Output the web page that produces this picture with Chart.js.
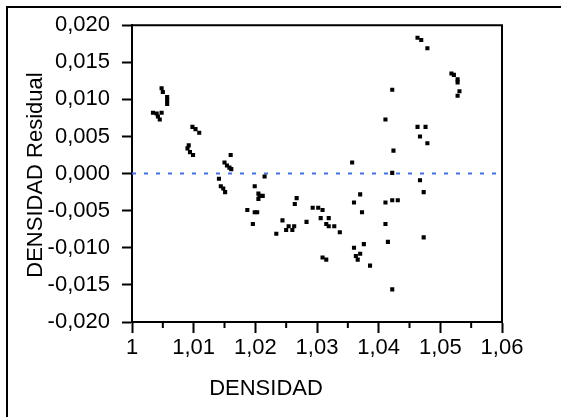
<!DOCTYPE html>
<html>
<head>
<meta charset="utf-8">
<script src="https://cdn.jsdelivr.net/npm/chart.js@4"></script>
<style>
  body { margin: 0; background: #fff; }
  canvas { display: block; }
</style>
</head>
<body>
<canvas id="residChart" width="561" height="417"></canvas>
<script>
// values
const densidad = [
  1.0048, 1.0050, 1.0057, 1.0057, 1.0057, 1.0034, 1.0040, 1.0048, 1.0042, 1.0045,
  1.0098, 1.0103, 1.0109, 1.0092, 1.0090, 1.0094, 1.0099, 1.0160, 1.0150, 1.0154,
  1.0158, 1.0161, 1.0215, 1.0141, 1.0144, 1.0148, 1.0151, 1.0199, 1.0205, 1.0207,
  1.0212, 1.0205, 1.0187, 1.0199, 1.0203, 1.0196, 1.0234, 1.0422, 1.0411, 1.0424,
  1.0357, 1.0422, 1.0267, 1.0264, 1.0370, 1.0360, 1.0373, 1.0411, 1.0422, 1.0431,
  1.0293, 1.0302, 1.0309, 1.0244, 1.0283, 1.0306, 1.0319, 1.0315, 1.0319, 1.0328,
  1.0337, 1.0254, 1.0263, 1.0250, 1.0260, 1.0411, 1.0415, 1.0360, 1.0376, 1.0370,
  1.0363, 1.0366, 1.0386, 1.0309, 1.0315, 1.0422, 1.0463, 1.0469, 1.0479, 1.0518,
  1.0522, 1.0528, 1.0528, 1.0531, 1.0528, 1.0463, 1.0476, 1.0467, 1.0479, 1.0467,
  1.0473, 1.0473
];
const residual = [
  0.0115, 0.0110, 0.0103, 0.0099, 0.0094, 0.0082, 0.0081, 0.0082, 0.0077, 0.0073,
  0.0063, 0.0060, 0.0055, 0.0038, 0.0034, 0.0029, 0.0025, 0.0025, 0.0015, 0.0011,
  0.0008, 0.0006, -0.0004, -0.0007, -0.0017, -0.0020, -0.0025, -0.0017, -0.0027, -0.0030,
  -0.0030, -0.0034, -0.0049, -0.0052, -0.0052, -0.0068, -0.0081, 0.0113, 0.0073, 0.0031,
  0.0015, 0.0001, -0.0033, -0.0041, -0.0028, -0.0039, -0.0052, -0.0039, -0.0036, -0.0036,
  -0.0046, -0.0046, -0.0049, -0.0063, -0.0065, -0.0060, -0.0060, -0.0068, -0.0071, -0.0071,
  -0.0079, -0.0071, -0.0071, -0.0076, -0.0076, -0.0068, -0.0092, -0.0100, -0.0095, -0.0108,
  -0.0111, -0.0116, -0.0124, -0.0113, -0.0116, -0.0156, 0.0183, 0.0180, 0.0169, 0.0135,
  0.0133, 0.0127, 0.0123, 0.0111, 0.0105, 0.0063, 0.0063, 0.0050, 0.0041, -0.0009,
  -0.0025, -0.0086
];

const xTicks = [1, 1.01, 1.02, 1.03, 1.04, 1.05, 1.06];
const xMinorTicks = [1.005, 1.015, 1.025, 1.035, 1.045, 1.055];
const yTicks = [-0.02, -0.015, -0.01, -0.005, 0, 0.005, 0.01, 0.015, 0.02];
const refLine = [0, 0];

const FONT = 'Liberation Sans, Arial, sans-serif';
const comma = v => String(v).replace('.', ',');

const extras = {
  id: 'extras',
  beforeDraw(chart) {
    const c = chart.ctx;
    c.save();
    c.fillStyle = '#fff';
    c.fillRect(0, 0, chart.width, chart.height);
    c.strokeStyle = '#000';
    c.lineWidth = 2;
    c.strokeRect(7, 7, 700, 600);
    c.restore();
  },
  afterDraw(chart) {
    const c = chart.ctx;
    const a = chart.chartArea;
    const xs = chart.scales.x;
    c.save();
    c.strokeStyle = '#000';
    c.lineWidth = 2;
    c.beginPath();
    c.moveTo(a.left, a.top);
    c.lineTo(a.right, a.top);
    c.lineTo(a.right, a.bottom);
    c.stroke();
    // minor ticks
    xMinorTicks.forEach(v => {
      const px = xs.getPixelForValue(v);
      c.beginPath();
      c.moveTo(px, a.bottom);
      c.lineTo(px, a.bottom + 6);
      c.stroke();
    });
    c.fillStyle = '#000';
    c.font = '22px ' + FONT;
    c.textAlign = 'center';
    c.textBaseline = 'middle';
    c.fillText('DENSIDAD', 266, 389);
    c.translate(36, 175);
    c.rotate(-Math.PI / 2);
    c.fillText('DENSIDAD Residual', 0, 0);
    c.restore();
  }
};

new Chart(document.getElementById('residChart'), {
  type: 'scatter',
  data: {
    datasets: [{
      data: densidad.map((d, i) => ({ x: d, y: residual[i] })),
      pointStyle: 'rect',
      pointRadius: 2.9,
      pointBorderWidth: 0,
      backgroundColor: '#000',
      borderColor: '#000'
    }, {
      type: 'line',
      data: [{ x: xTicks[0], y: refLine[0] }, { x: xTicks[xTicks.length - 1], y: refLine[1] }],
      borderColor: '#3e72e6',
      borderWidth: 2,
      borderDash: [4, 8],
      pointRadius: 0
    }]
  },
  options: {
    responsive: false,
    animation: false,
    layout: { padding: { left: 0, top: 25, right: 59, bottom: 0 } },
    plugins: { legend: { display: false }, tooltip: { enabled: false } },
    scales: {
      x: {
        type: 'linear',
        min: 1,
        max: 1.06,
        afterBuildTicks: s => { s.ticks = xTicks.map(v => ({ value: v })); },
        afterFit: s => { s.height = 95; },
        border: { color: '#000', width: 2 },
        grid: { drawOnChartArea: false, tickLength: 11, tickColor: '#000', tickWidth: 2 },
        ticks: {
          color: '#000',
          font: { family: FONT, size: 22 },
          padding: 2,
          maxRotation: 0,
          autoSkip: false,
          callback: v => comma(parseFloat(v.toFixed(2)))
        }
      },
      y: {
        min: -0.02,
        max: 0.02,
        afterBuildTicks: s => { s.ticks = yTicks.map(v => ({ value: v })); },
        afterFit: s => { s.width = 132; },
        border: { color: '#000', width: 2 },
        grid: { drawOnChartArea: false, tickLength: 10, tickColor: '#000', tickWidth: 2 },
        ticks: {
          color: '#000',
          font: { family: FONT, size: 22 },
          padding: 12,
          autoSkip: false,
          callback: v => comma(v.toFixed(3))
        }
      }
    }
  },
  plugins: [extras]
});
</script>
</body>
</html>
